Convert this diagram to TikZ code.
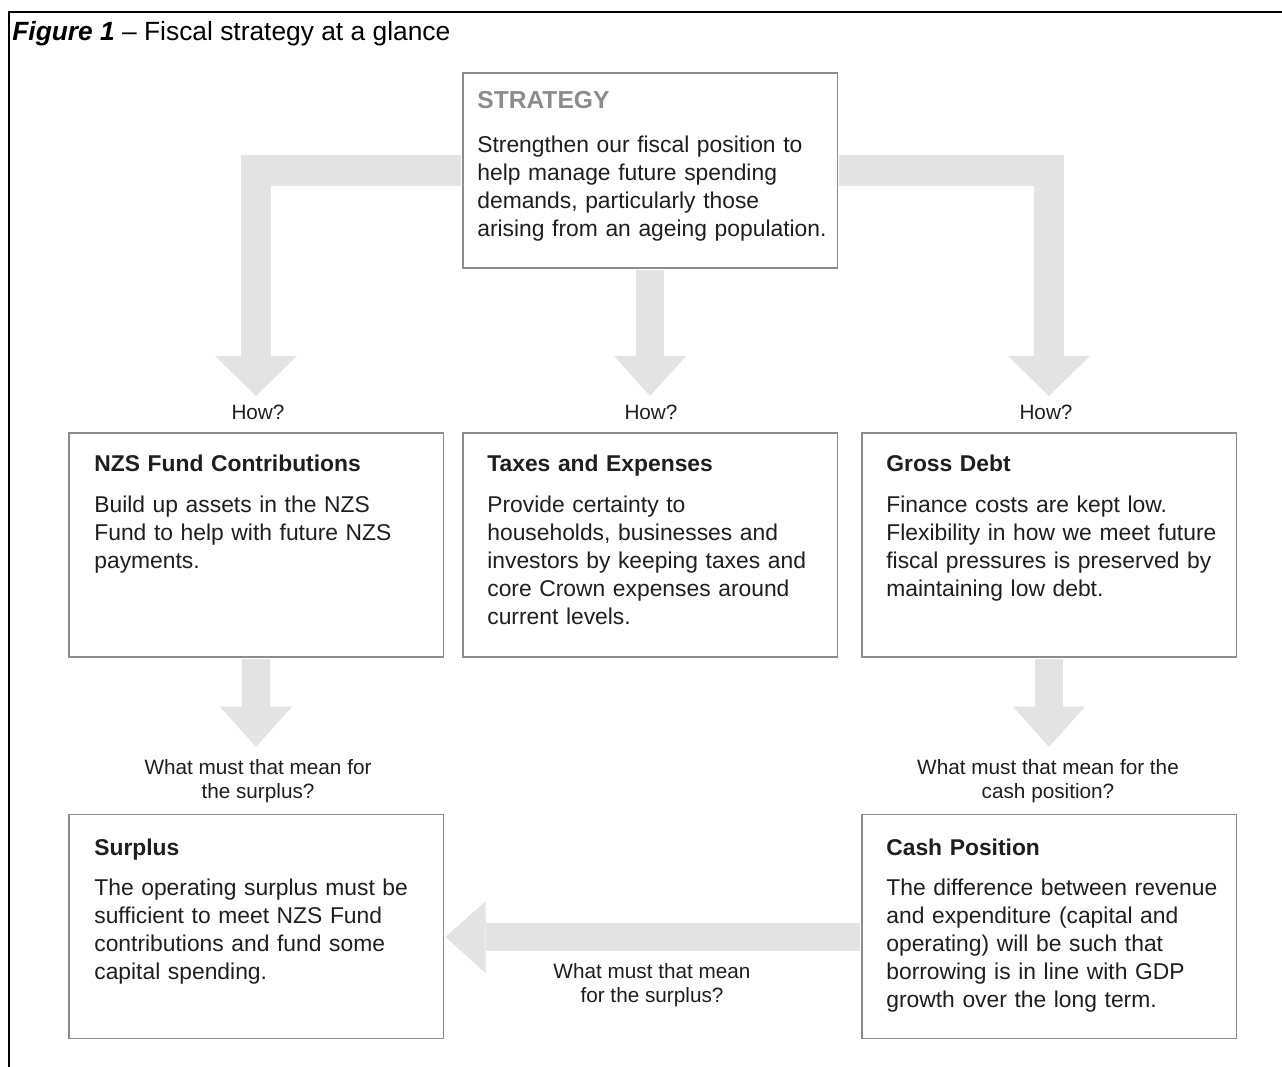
\documentclass[tikz,border=0pt]{standalone}
\usepackage{fontspec}
\setmainfont{Liberation Sans}
\usepackage{xcolor}
\usepackage{tikz}
\usetikzlibrary{arrows.meta}
\definecolor{boxgray}{RGB}{140,140,140}
\definecolor{arrowgray}{RGB}{227,227,227}
\definecolor{headgray}{RGB}{140,140,140}
\definecolor{textdark}{RGB}{30,30,30}

\begin{document}
\begin{tikzpicture}[x=0.02cm,y=-0.02cm]
    \tikzstyle{box} = [draw=boxgray,line width=1.1pt,minimum width=7.5cm,minimum height=4.48cm,inner sep=0pt]
    \tikzstyle{boxtext} = [anchor=base west,text width=7.2cm,align=left,inner sep=0pt,text=textdark,font=\fontsize{13}{16}\selectfont]
    \tikzstyle{question} = [align=center,text=textdark,font=\fontsize{11.8}{13.7}\selectfont]
    \tikzstyle{bigarrow} = [arrowgray,line width=17.4pt,shorten <=0.6pt,-{Triangle[length=22.8pt,width=46.7pt,line width=0pt]}]
    \tikzstyle{smallarrow} = [arrowgray,line width=16pt,shorten <=0.6pt,-{Triangle[length=22.8pt,width=41pt,line width=0pt]}]

    \useasboundingbox (0,0) rectangle (1282,1067);
    \draw[line width=1.5pt] (1282,12) -- (9,12) -- (9,1067);
    \node[anchor=west,inner sep=0pt,font=\fontsize{15}{18}\selectfont] (title) at (12,34) {\textbf{\textit{Figure 1}} -- Fiscal strategy at a glance};

    % boxes
    \node[box,minimum height=3.9cm] (strat) at (650,170.5) {};
    \node[box] (nzs) at (256,545) {};
    \node[box] (tax) at (650,545) {};
    \node[box] (debt) at (1049,545) {};
    \node[box] (surplus) at (256,926.5) {};
    \node[box] (cash) at (1049,926.5) {};

    \node[boxtext] (strattext) at (477,109) {{\fontsize{14}{16}\selectfont\bfseries\color{headgray}STRATEGY}\\[8.5pt]
        Strengthen our fiscal position to\\help manage future spending\\demands, particularly those\\arising from an ageing population.};
    \node[boxtext] (nzstext) at (94,472) {\textbf{NZS Fund Contributions}\\[7pt]
        Build up assets in the NZS\\Fund to help with future NZS\\payments.};
    \node[boxtext] (taxtext) at (487,472) {\textbf{Taxes and Expenses}\\[7pt]
        Provide certainty to\\households, businesses and\\investors by keeping taxes and\\core Crown expenses around\\current levels.};
    \node[boxtext] (debttext) at (886,472) {\textbf{Gross Debt}\\[7pt]
        Finance costs are kept low.\\Flexibility in how we meet future\\fiscal pressures is preserved by\\maintaining low debt.};
    \node[boxtext] (surplustext) at (94,855) {\textbf{Surplus}\\[7pt]
        The operating surplus must be\\sufficient to meet NZS Fund\\contributions and fund some\\capital spending.};
    \node[boxtext] (cashtext) at (886,855) {\textbf{Cash Position}\\[7pt]
        The difference between revenue\\and expenditure (capital and\\operating) will be such that\\borrowing is in line with GDP\\growth over the long term.};

    % questions
    \node[question] (how1) at (258,412) {How?};
    \node[question] (how2) at (651,412) {How?};
    \node[question] (how3) at (1046,412) {How?};
    \node[question] (ask1) at (258,781) {What must that mean for\\the surplus?};
    \node[question] (ask2) at (1048,781) {What must that mean for the\\cash position?};
    \node[question] (ask3) at (652,985) {What must that mean\\for the surplus?};

    % arrows
    \draw[bigarrow,shorten >=20.5pt] (strat.west) -| (nzs.north);
    \draw[bigarrow,shorten >=20.5pt] (strat.east) -| (debt.north);
    \draw[smallarrow,shorten >=20.5pt] (strat.south) -- (tax.north);
    \draw[smallarrow,shorten >=38pt] (nzs.south) -- (surplus.north);
    \draw[smallarrow,shorten >=38pt] (debt.south) -- (cash.north);
    \draw[smallarrow,shorten >=0.6pt] ([yshift=-6pt]cash.west) -- ([yshift=-6pt]surplus.east);
\end{tikzpicture}
\end{document}
